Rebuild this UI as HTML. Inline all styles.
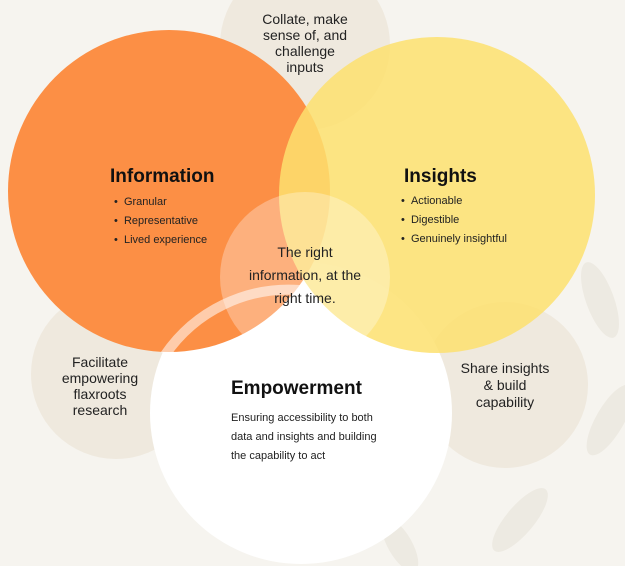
<!DOCTYPE html>
<html><head><meta charset="utf-8"><style>
html,body{margin:0;padding:0;background:#f6f4ef;}
svg{display:block;font-family:"Liberation Sans",sans-serif;}
</style></head><body>
<svg width="625" height="566" viewBox="0 0 625 566" xmlns="http://www.w3.org/2000/svg">
<rect width="625" height="566" fill="#f6f4ef"/>
<g fill="#ece8df" opacity="0.8">
<ellipse cx="600" cy="300" rx="14" ry="40" transform="rotate(-20 600 300)"/>
<ellipse cx="610" cy="420" rx="14" ry="40" transform="rotate(30 610 420)"/>
<ellipse cx="520" cy="520" rx="14" ry="40" transform="rotate(40 520 520)"/>
<ellipse cx="400" cy="545" rx="12" ry="30" transform="rotate(-30 400 545)"/>
</g>
<g fill="#efe9de">
<circle cx="305" cy="45" r="85"/>
<circle cx="116" cy="374" r="85"/>
<circle cx="505" cy="385" r="83"/>
</g>
<circle cx="301" cy="413" r="151" fill="#ffffff"/>
<circle cx="169" cy="191" r="161" fill="#fc8f45"/>
<circle cx="437" cy="195" r="158" fill="#fde06f" opacity="0.85"/>
<circle cx="305" cy="277" r="85" fill="#ffffff" opacity="0.3"/>
<path d="M165,355 A150,150 0 0 1 300,290" fill="none" stroke="#ffffff" stroke-width="10" opacity="0.55"/>
<g fill="#222" font-size="14" text-anchor="middle">
<text x="305" y="24">Collate, make</text>
<text x="305" y="40">sense of, and</text>
<text x="305" y="56">challenge</text>
<text x="305" y="72">inputs</text>
<text x="305" y="257">The right</text>
<text x="305" y="280">information, at the</text>
<text x="305" y="303">right time.</text>
<text x="100" y="367">Facilitate</text>
<text x="100" y="383">empowering</text>
<text x="100" y="399">flaxroots</text>
<text x="100" y="415">research</text>
<text x="505" y="373">Share insights</text>
<text x="505" y="390">&amp; build</text>
<text x="505" y="407">capability</text>
</g>
<g fill="#111" font-size="19" font-weight="bold">
<text x="110" y="182">Information</text>
<text x="404" y="182">Insights</text>
<text x="231" y="394">Empowerment</text>
</g>
<g fill="#222" font-size="11">
<text x="114" y="205">•&#160;&#160;Granular</text>
<text x="114" y="224">•&#160;&#160;Representative</text>
<text x="114" y="243">•&#160;&#160;Lived experience</text>
<text x="401" y="204">•&#160;&#160;Actionable</text>
<text x="401" y="223">•&#160;&#160;Digestible</text>
<text x="401" y="242">•&#160;&#160;Genuinely insightful</text>
<text x="231" y="421">Ensuring accessibility to both</text>
<text x="231" y="440">data and insights and building</text>
<text x="231" y="459">the capability to act</text>
</g>
</svg>
</body></html>
